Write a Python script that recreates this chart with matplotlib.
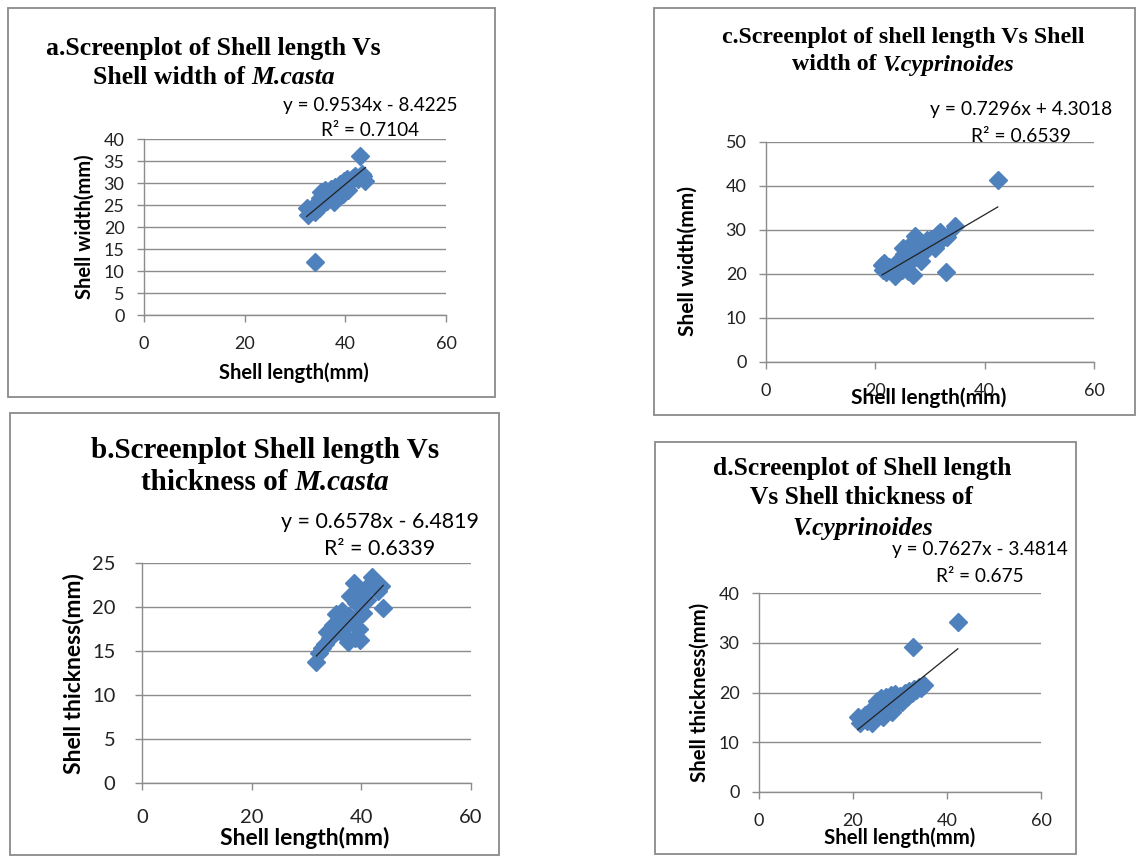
import matplotlib
matplotlib.use("Agg")
import matplotlib.pyplot as plt
from matplotlib.patches import Rectangle

W, H = 1137, 857

# ---------------- data ----------------
a_length = [32.3, 32.6, 33.0, 33.5, 34.0, 34.3, 34.8, 35.0, 35.2, 35.5, 35.8, 36.0, 36.3, 36.6,
            37.0, 37.2, 37.5, 37.8, 38.0, 38.2, 38.5, 38.8, 39.0, 39.2, 39.5, 39.8, 40.0, 40.3,
            40.5, 41.0, 41.5, 42.0, 42.5, 42.9, 43.3, 43.6, 44.0, 34.0]
a_width = [24.3, 22.8, 23.8, 24.6, 23.5, 25.2, 24.4, 26.5, 28.0, 25.5, 27.0, 28.3, 26.0, 27.5,
           26.8, 28.6, 27.8, 25.6, 29.0, 26.5, 28.2, 27.3, 29.8, 28.6, 27.5, 30.5, 29.2, 31.0,
           28.3, 30.2, 31.2, 31.6, 30.8, 36.2, 32.0, 31.5, 30.5, 12.0]

b_length = [31.8, 32.3, 32.8, 33.3, 33.8, 34.3, 34.8, 35.3, 35.6, 36.0, 36.4, 36.8, 37.2, 37.5,
            37.8, 38.0, 38.3, 38.6, 38.8, 39.0, 39.3, 39.6, 39.8, 40.0, 40.3, 40.6, 41.0, 41.5,
            42.0, 42.5, 43.0, 43.5, 44.0]
b_thick = [13.8, 14.8, 15.3, 15.8, 17.2, 16.5, 18.0, 19.2, 17.3, 18.6, 19.5, 16.8, 17.8, 16.0,
           19.0, 21.2, 18.3, 22.7, 16.5, 20.5, 18.8, 17.5, 16.3, 21.8, 19.3, 22.0, 20.8, 22.5,
           23.4, 22.8, 21.8, 22.4, 19.9]

c_length = [21.2, 21.4, 21.6, 22.0, 22.5, 23.0, 23.6, 24.0, 24.5, 24.8, 25.0, 25.3, 25.6, 26.0,
            26.2, 26.5, 26.8, 27.0, 27.3, 27.6, 28.0, 28.4, 28.7, 29.0, 29.4, 29.8, 30.2, 30.6,
            31.0, 31.4, 31.8, 32.2, 32.9, 33.2, 34.6, 42.4]
c_width = [22.0, 21.0, 22.6, 20.5, 21.5, 20.8, 19.5, 22.0, 23.5, 21.0, 25.8, 24.5, 22.8, 20.6,
           25.0, 23.0, 19.8, 27.5, 28.6, 26.0, 24.5, 23.0, 26.8, 25.2, 27.8, 26.5, 28.0, 27.0,
           26.0, 29.2, 29.6, 28.0, 20.5, 28.4, 30.8, 41.3]

d_length = [21.0, 21.5, 22.0, 22.5, 23.0, 23.5, 24.0, 24.3, 24.6, 25.0, 25.3, 25.6, 26.0, 26.3,
            26.6, 27.0, 27.3, 27.6, 28.0, 28.3, 28.6, 29.0, 29.3, 29.6, 30.0, 30.5, 31.0, 31.5,
            32.0, 32.5, 32.8, 33.0, 33.5, 34.0, 34.5, 35.0, 42.3]
d_thick = [15.0, 13.8, 14.5, 15.5, 14.2, 16.0, 13.9, 15.2, 17.0, 18.3, 15.8, 16.8, 18.8, 15.0,
           17.5, 19.0, 16.2, 18.0, 19.5, 16.0, 17.2, 19.6, 17.8, 18.6, 19.3, 18.0, 19.8, 19.0,
           20.3, 20.0, 29.2, 20.8, 20.5, 21.2, 21.0, 21.6, 34.2]

slopes = [0.9534, 0.6578, 0.7296, 0.7627]
intercepts = [-8.4225, -6.4819, 4.3018, -3.4814]
equations = ["y = 0.9534x - 8.4225", "y = 0.6578x - 6.4819",
             "y = 0.7296x + 4.3018", "y = 0.7627x - 3.4814"]
r2_labels = ["R\u00b2 = 0.7104", "R\u00b2 = 0.6339", "R\u00b2 = 0.6539", "R\u00b2 = 0.675"]
x_ticks = [0, 20, 40, 60]
y_ticks_a = [0, 5, 10, 15, 20, 25, 30, 35, 40]
y_ticks_b = [0, 5, 10, 15, 20, 25]
y_ticks_c = [0, 10, 20, 30, 40, 50]
y_ticks_d = [0, 10, 20, 30, 40]
x_label = "Shell length(mm)"
y_labels = ["Shell width(mm)", "Shell thickness(mm)", "Shell width(mm)", "Shell thickness(mm)"]

# ---------------- styling ----------------
BLUE = "#4F81BD"
GRID = "#8C8C8C"
SANS = "Lato"
SERIF = "Liberation Serif"

fig = plt.figure(figsize=(W / 100, H / 100), dpi=100)
fig.patch.set_facecolor("white")


def fx(x):
    return x / W


def fy(y):
    return 1 - y / H


def add_box(x0, y0, x1, y1):
    fig.patches.append(Rectangle((fx(x0), fy(y1)), fx(x1) - fx(x0), fy(y0) - fy(y1),
                                 transform=fig.transFigure, fill=False,
                                 edgecolor="#8A8A8A", linewidth=1.3))


renderer = fig.canvas.get_renderer()


def mixed_line(parts, cx, y, size):
    texts = []
    widths = []
    for s, style in parts:
        t = fig.text(0, fy(y), s, fontsize=size, family=SERIF, weight="bold",
                     style=style, ha="left", va="center")
        texts.append(t)
        widths.append(t.get_window_extent(renderer).width)
    gap = size * 100 / 72 * 0.25
    total = sum(widths) + gap * (len(parts) - 1)
    x = cx - total / 2
    for t, w in zip(texts, widths):
        t.set_x(fx(x))
        x += w + gap


def panel(x_l, x_r, y_t, y_b, xs, ys, k, ymax, yticks, xpad, ypad, tsize):
    ax = fig.add_axes([fx(x_l), fy(y_b), fx(x_r) - fx(x_l), fy(y_t) - fy(y_b)])
    ax.set_xlim(0, 60)
    ax.set_ylim(0, ymax)
    ax.set_xticks(x_ticks)
    ax.set_yticks(yticks)
    for s in ["top", "right"]:
        ax.spines[s].set_visible(False)
    for s in ["left", "bottom"]:
        ax.spines[s].set_color(GRID)
        ax.spines[s].set_linewidth(1.0)
    ax.yaxis.grid(True, color=GRID, linewidth=1.0)
    ax.set_axisbelow(True)
    ax.tick_params(axis="both", direction="out", length=5, width=1.0, color=GRID,
                   labelsize=tsize, labelcolor="#222222")
    ax.tick_params(axis="x", pad=xpad)
    ax.tick_params(axis="y", pad=ypad)
    for lab in ax.get_xticklabels() + ax.get_yticklabels():
        lab.set_family(SANS)
    ax.plot(xs, ys, ls="none", marker="D", ms=9.5, color=BLUE, mec=BLUE, clip_on=False)
    x0, x1 = min(xs), max(xs)
    ax.plot([x0, x1], [slopes[k] * x0 + intercepts[k], slopes[k] * x1 + intercepts[k]],
            color="#222222", lw=0.9)
    ax.patch.set_alpha(0)
    return ax


# ---------------- panel a ----------------
add_box(8, 8, 495, 397)
mixed_line([("a.Screenplot of Shell length Vs", "normal")], 213, 48, 18.5)
mixed_line([("Shell width of", "normal"), ("M.casta", "italic")], 214, 77, 18.5)
panel(144, 446, 139, 315, a_length, a_width, 0, 40, y_ticks_a, 10, 9, 13)
fig.text(fx(370), fy(105), equations[0], fontsize=13.6, family=SANS, ha="center", va="center")
fig.text(fx(370), fy(130), r2_labels[0], fontsize=13.6, family=SANS, ha="center", va="center")
fig.text(fx(85), fy(227), y_labels[0], fontsize=14.5, family=SANS, weight="bold",
         rotation=90, ha="center", va="center")
fig.text(fx(294), fy(373), x_label, fontsize=14.5, family=SANS, weight="bold",
         ha="center", va="center")

# ---------------- panel b ----------------
add_box(10, 413, 499, 855)
mixed_line([("b.Screenplot Shell length Vs", "normal")], 265, 450, 21)
mixed_line([("thickness of", "normal"), ("M.casta", "italic")], 265, 483, 21)
panel(142, 471, 563, 783, b_length, b_thick, 1, 25, y_ticks_b, 14, 14, 14.5)
fig.text(fx(380), fy(522), equations[1], fontsize=15.4, family=SANS, ha="center", va="center")
fig.text(fx(380), fy(549), r2_labels[1], fontsize=15.4, family=SANS, ha="center", va="center")
fig.text(fx(73), fy(674), y_labels[1], fontsize=16.5, family=SANS, weight="bold",
         rotation=90, ha="center", va="center")
fig.text(fx(305), fy(838), x_label, fontsize=16.5, family=SANS, weight="bold",
         ha="center", va="center")

# ---------------- panel c ----------------
add_box(654, 8, 1135, 415)
mixed_line([("c.Screenplot of shell length Vs Shell", "normal")], 903, 37, 17.2)
mixed_line([("width of", "normal"), ("V.cyprinoides", "italic")], 903, 65, 17.2)
panel(766, 1094, 142, 362, c_length, c_width, 2, 50, y_ticks_c, 10, 9, 13)
fig.text(fx(1021), fy(110), equations[2], fontsize=13.9, family=SANS, ha="center", va="center")
fig.text(fx(1021), fy(136), r2_labels[2], fontsize=13.9, family=SANS, ha="center", va="center")
fig.text(fx(688), fy(261), y_labels[2], fontsize=15, family=SANS, weight="bold",
         rotation=90, ha="center", va="center")
fig.text(fx(929), fy(398), x_label, fontsize=15, family=SANS, weight="bold",
         ha="center", va="center")

# ---------------- panel d ----------------
add_box(655, 442, 1076, 854)
mixed_line([("d.Screenplot of Shell length", "normal")], 862, 468, 18.4)
mixed_line([("Vs Shell thickness of", "normal")], 862, 497, 18.4)
mixed_line([("V.cyprinoides", "italic")], 863, 528, 18.4)
panel(759, 1041, 593, 792, d_length, d_thick, 3, 40, y_ticks_d, 10, 9, 13)
fig.text(fx(980), fy(550), equations[3], fontsize=13.7, family=SANS, ha="center", va="center")
fig.text(fx(980), fy(576), r2_labels[3], fontsize=13.7, family=SANS, ha="center", va="center")
fig.text(fx(700), fy(692), y_labels[3], fontsize=14.7, family=SANS, weight="bold",
         rotation=90, ha="center", va="center")
fig.text(fx(900), fy(838), x_label, fontsize=14.7, family=SANS, weight="bold",
         ha="center", va="center")

fig.savefig("out.png", dpi=100, facecolor="white")
